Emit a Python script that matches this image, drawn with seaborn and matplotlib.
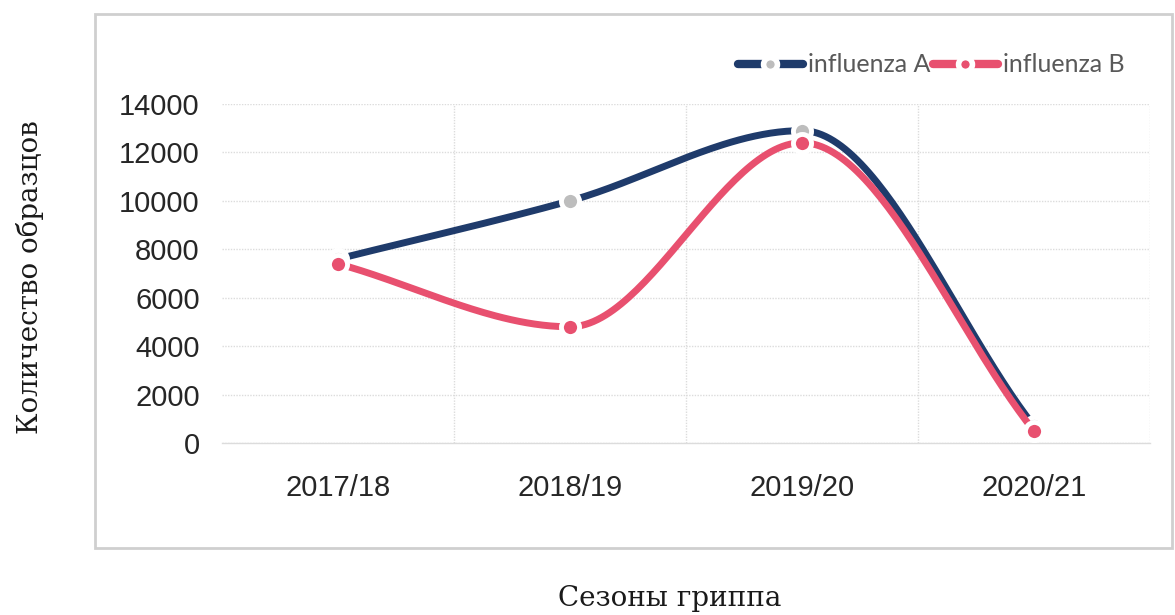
import numpy as np
import pandas as pd
import matplotlib
matplotlib.use("Agg")
import matplotlib.pyplot as plt
from matplotlib.lines import Line2D
from matplotlib.patches import Rectangle
import seaborn as sns

seasons = ["2017/18", "2018/19", "2019/20", "2020/21"]
influenza_a = [7600, 10000, 12900, 700]
influenza_b = [7400, 4800, 12400, 500]
series_names = ["influenza A", "influenza B"]
yticks = [0, 2000, 4000, 6000, 8000, 10000, 12000, 14000]

col_a = "#1F3B6B"
col_a_marker = "#BDBDBD"
col_b = "#E8506F"


def smooth(xs, ys, n=60):
    """Cubic Hermite curve through the data points (flat tangents at local extrema)."""
    xs = np.asarray(xs, float)
    ys = np.asarray(ys, float)
    d = np.diff(ys) / np.diff(xs)
    m = np.zeros_like(ys)
    m[0] = d[0]
    m[-1] = d[-1]
    for i in range(1, len(ys) - 1):
        if d[i - 1] * d[i] > 0:
            m[i] = (ys[i + 1] - ys[i - 1]) / (xs[i + 1] - xs[i - 1])
            lim = 3 * min(abs(d[i - 1]), abs(d[i]))
            m[i] = np.sign(m[i]) * min(abs(m[i]), lim)
        else:
            m[i] = 0.0
    outx, outy = [], []
    t = np.linspace(0, 1, n)
    for i in range(len(ys) - 1):
        h = xs[i + 1] - xs[i]
        h00 = 2 * t**3 - 3 * t**2 + 1
        h10 = t**3 - 2 * t**2 + t
        h01 = -2 * t**3 + 3 * t**2
        h11 = t**3 - t**2
        outx.extend(xs[i] + t * h)
        outy.extend(h00 * ys[i] + h10 * h * m[i] + h01 * ys[i + 1] + h11 * h * m[i + 1])
    return np.array(outx), np.array(outy)


sns.set_theme(style="white")
plt.rcParams["font.family"] = ["Liberation Sans", "DejaVu Sans"]

fig = plt.figure(figsize=(11.75, 6.15), dpi=100)
ax = fig.add_axes([222 / 1175, 1 - 443 / 615, (1150 - 222) / 1175, (443 - 104) / 615])

xpos = np.arange(len(seasons))

for vals, col, mcol, z in [(influenza_a, col_a, col_a_marker, 3), (influenza_b, col_b, col_b, 5)]:
    sx, sy = smooth(xpos, vals)
    df = pd.DataFrame({"x": sx, "y": sy})
    sns.lineplot(data=df, x="x", y="y", sort=False, estimator=None, color=col,
                 linewidth=5, ax=ax, zorder=z, solid_capstyle="butt")
    dm = pd.DataFrame({"x": xpos, "y": vals})
    sns.scatterplot(data=dm, x="x", y="y", color=mcol, s=170, edgecolor="white",
                    linewidth=3.5, ax=ax, zorder=z + 1)

ax.set_xlim(-0.5, 3.5)
ax.set_ylim(0, 14000)
ax.set_xticks(xpos)
ax.set_xticklabels(seasons)
ax.set_xticks([0.5, 1.5, 2.5, 3.5], minor=True)
ax.set_yticks(yticks)
ax.set_yticklabels([str(v) for v in yticks])
ax.tick_params(axis="both", which="both", length=0, labelsize=21, colors="#262626")
ax.tick_params(axis="x", pad=22)
ax.tick_params(axis="y", pad=16)
ax.grid(False)
ax.grid(True, axis="y", which="major", color="#DCDCDC", linewidth=1, linestyle=(0, (1, 1)))
ax.grid(True, axis="x", which="minor", color="#DCDCDC", linewidth=1, linestyle=(0, (1, 1)))
for s in ["top", "right", "left"]:
    ax.spines[s].set_visible(False)
ax.spines["bottom"].set_color("#DCDCDC")
ax.spines["bottom"].set_linewidth(1)
ax.set_xlabel("")
ax.set_ylabel("")

fig.text(30 / 1175, 1 - 277 / 615, "Количество образцов", rotation=90, ha="center", va="center",
         fontsize=20, family=["DejaVu Serif"], color="#1a1a1a")
fig.text(670 / 1175, 1 - 598 / 615, "Сезоны гриппа", ha="center", va="center",
         fontsize=20, family=["DejaVu Serif"], color="#1a1a1a")

fig.patches.append(Rectangle((95 / 1175, 1 - 548 / 615), (1172 - 95) / 1175, (548 - 14) / 615,
                             transform=fig.transFigure, fill=False, edgecolor="#CFCFCF",
                             linewidth=2))

handles = [
    Line2D([0], [0], color=col_a, lw=6, marker="o", markersize=10, markerfacecolor=col_a_marker,
           markeredgecolor="white", markeredgewidth=4),
    Line2D([0], [0], color=col_b, lw=6, marker="o", markersize=10, markerfacecolor=col_b,
           markeredgecolor="white", markeredgewidth=4),
]
leg = fig.legend(handles, series_names, loc="center", bbox_to_anchor=(931 / 1175, 1 - 65 / 615),
                 ncol=2, frameon=False, handlelength=2.6, columnspacing=0.1, handletextpad=0.2,
                 prop={"family": "Lato", "size": 18})
for t in leg.get_texts():
    t.set_color("#595959")

fig.savefig("out.png", dpi=100)
